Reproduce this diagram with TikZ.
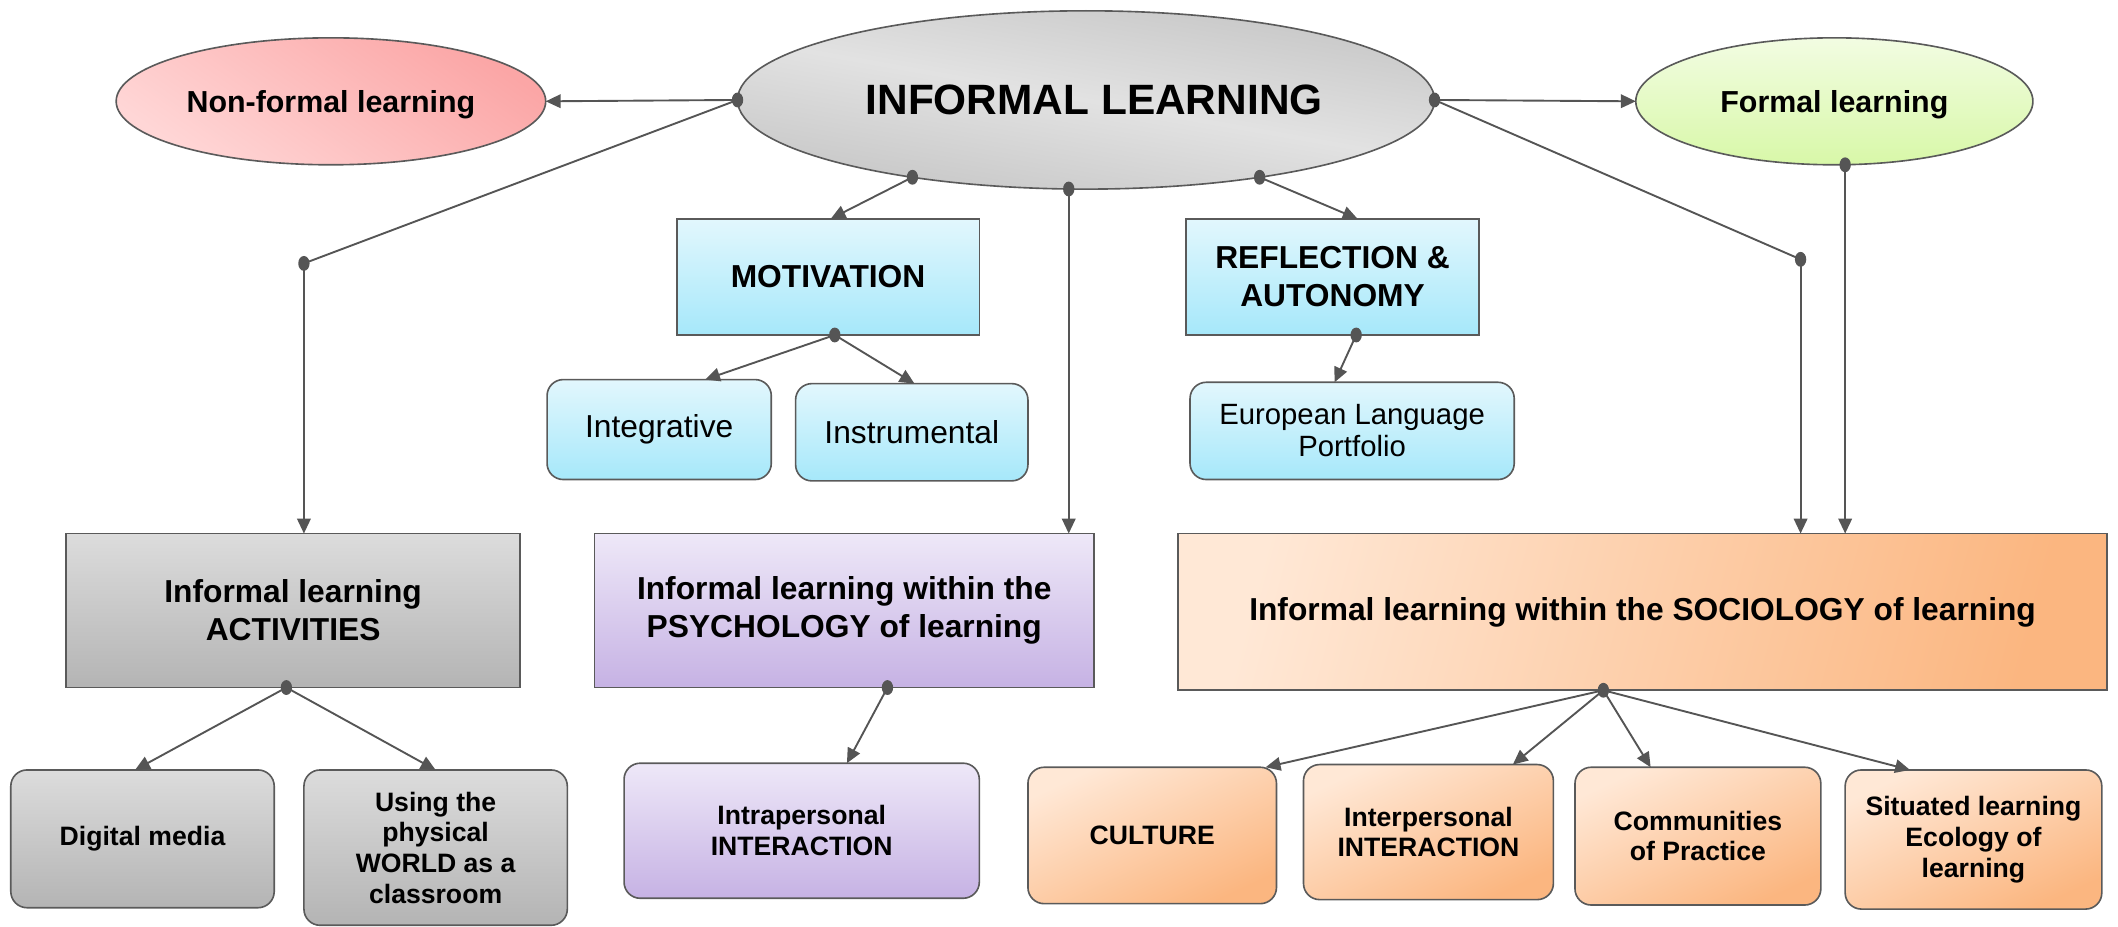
\documentclass[tikz,border=0pt]{standalone}
\usepackage{fontspec}
\setmainfont{Liberation Sans}
\usetikzlibrary{arrows.meta,shapes.geometric}
\definecolor{lc}{HTML}{555555}
\definecolor{bc}{HTML}{5A5A5A}
\definecolor{grayA}{HTML}{C6C6C6}
\definecolor{grayB}{HTML}{E2E2E2}
\definecolor{pinkA}{HTML}{FBA6A6}
\definecolor{pinkB}{HTML}{FFD6D6}
\definecolor{greenA}{HTML}{F2FCE2}
\definecolor{greenB}{HTML}{D8F8A8}
\definecolor{blueA}{HTML}{E2F7FD}
\definecolor{blueB}{HTML}{A6E8FA}
\definecolor{gboxA}{HTML}{DCDCDC}
\definecolor{gboxB}{HTML}{B4B4B4}
\definecolor{purA}{HTML}{EEE8F8}
\definecolor{purB}{HTML}{C6B2E4}
\definecolor{orA}{HTML}{FFE8D6}
\definecolor{orB}{HTML}{FBB680}
\tikzset{
  conn/.style={draw=lc, line width=1.4pt, -{Triangle[length=11pt,width=10pt]}},
  plain/.style={draw=lc, line width=1.4pt},
  box/.style={draw=bc, line width=1.2pt, inner sep=0pt, outer sep=0pt, align=center},
  rbox/.style={box, rounded corners=12pt},
  ell/.style={draw=bc, line width=1.2pt, ellipse, inner sep=0pt, outer sep=0pt, align=center},
  bigtxt/.style={font=\fontsize{23.5}{28}\selectfont\bfseries},
  regtxt/.style={font=\fontsize{23.5}{28}\selectfont},
  smalltxt/.style={font=\fontsize{19.7}{22.7}\selectfont\bfseries},
  grayfill/.style={top color=gboxA, bottom color=gboxB},
  bluefill/.style={top color=blueA, bottom color=blueB},
  purfill/.style={top color=purA, bottom color=purB},
  orfill/.style={top color=orA, bottom color=orB, shading angle=25},
  orwide/.style={top color=orA, bottom color=orB, shading angle=75},
}
\begin{document}
\begin{tikzpicture}[x=1pt,y=-1pt]
\useasboundingbox (0,0) rectangle (1568,686);
% ellipses
\node[ell, minimum width=516pt, minimum height=132pt, top color=grayA, bottom color=grayA, middle color=grayB, shading angle=-10,
  font=\fontsize{31.4}{36}\selectfont\bfseries] (inf) at (804,74) {\hspace*{12pt}INFORMAL LEARNING};
\node[ell, minimum width=318pt, minimum height=94pt, top color=pinkA, bottom color=pinkB, shading angle=-35,
  font=\fontsize{22.5}{27}\selectfont\bfseries, text height=22pt, text depth=5pt] (nonf) at (245,75) {Non-formal learning};
\node[ell, minimum width=294pt, minimum height=94pt, top color=greenA, bottom color=greenB,
  font=\fontsize{22.5}{27}\selectfont\bfseries, text height=22pt, text depth=5pt] (form) at (1358,75) {Formal learning};
% second row
\node[box, bluefill, bigtxt, minimum width=224pt, minimum height=86pt] (mot) at (613,205) {MOTIVATION};
\node[box, bluefill, bigtxt, minimum width=217pt, minimum height=86pt] (refl) at (986.5,205) {REFLECTION \&\\AUTONOMY};
\node[rbox, bluefill, regtxt, minimum width=166pt, minimum height=74pt] (integ) at (488,318) {Integrative};
\node[rbox, bluefill, regtxt, minimum width=172pt, minimum height=72pt] (instr) at (675,320) {Instrumental};
\node[rbox, bluefill, font=\fontsize{21.7}{23.5}\selectfont, minimum width=240pt, minimum height=72pt] (elp) at (1001,319) {European Language\\Portfolio};
% third row
\node[box, grayfill, bigtxt, minimum width=336pt, minimum height=114pt] (act) at (217,452) {Informal learning\\ACTIVITIES};
\node[box, purfill, bigtxt, minimum width=370pt, minimum height=114pt] (psy) at (625,452) {Informal learning within the\\PSYCHOLOGY of learning};
\node[box, orwide, bigtxt, minimum width=688pt, minimum height=116pt] (soc) at (1216,453) {Informal learning within the SOCIOLOGY of learning};
% bottom row
\node[rbox, grayfill, smalltxt, minimum width=195pt, minimum height=102pt] (dig) at (105.5,621) {Digital media};
\node[rbox, grayfill, smalltxt, minimum width=195pt, minimum height=115pt] (use) at (322.5,627.5) {Using the\\physical\\WORLD as a\\classroom};
\node[rbox, purfill, smalltxt, minimum width=263pt, minimum height=100pt] (intra) at (593.5,615) {Intrapersonal\\INTERACTION};
\node[rbox, orfill, smalltxt, minimum width=184pt, minimum height=101pt] (cult) at (853,618.5) {CULTURE};
\node[rbox, orfill, smalltxt, minimum width=185pt, minimum height=100pt] (inter) at (1057.5,616) {Interpersonal\\INTERACTION};
\node[rbox, orfill, smalltxt, minimum width=182pt, minimum height=102pt] (comm) at (1257,619) {Communities\\of Practice};
\node[rbox, orfill, smalltxt, minimum width=190pt, minimum height=103pt] (sit) at (1461,621.5) {Situated learning\\Ecology of\\learning};
% dot coordinates
\coordinate (dL) at (inf.west);
\coordinate (dR) at (inf.east);
\coordinate (dMot) at (inf.204.8);
\coordinate (dPsy) at (inf.259.7);
\coordinate (dRef) at (inf.336.8);
\coordinate (j1) at (225,195);
\coordinate (j2) at (1333,192);
\coordinate (dF) at ([xshift=8pt]form.south);
\coordinate (dM2) at ([xshift=5pt]mot.south);
\coordinate (dR2) at ([xshift=17.5pt]refl.south);
\coordinate (dA) at ([xshift=-5pt]act.south);
\coordinate (dP) at ([xshift=32pt]psy.south);
\coordinate (dS) at ([xshift=-29pt]soc.south);
% connectors
\draw[conn] (dL) -- (nonf.east);
\draw[conn] (dR) -- (form.west);
\draw[plain] (dL) -- (j1);
\draw[conn] (j1) -- (j1 |- act.north);
\draw[plain] (dR) -- (j2);
\draw[conn] (j2) -- (j2 |- soc.north);
\draw[conn] (dF) -- (dF |- soc.north);
\draw[conn] (dMot) -- ([xshift=2pt]mot.north);
\draw[conn] (dPsy) -- (dPsy |- psy.north);
\draw[conn] (dRef) -- ([xshift=18.5pt]refl.north);
\draw[conn] (dM2) -- ([xshift=34pt]integ.north);
\draw[conn] (dM2) -- ([xshift=2pt]instr.north);
\draw[conn] (dR2) -- ([xshift=-13pt]elp.north);
\draw[conn] (dA) -- ([xshift=-5.5pt]dig.north);
\draw[conn] (dA) -- (use.north);
\draw[conn] (dP) -- ([xshift=33.5pt]intra.north);
\draw[conn] (dS) -- ([xshift=84pt]cult.north);
\draw[conn] (dS) -- ([xshift=62.5pt]inter.north);
\draw[conn] (dS) -- ([xshift=-35pt]comm.north);
\draw[conn] (dS) -- ([xshift=-47pt]sit.north);
% dots
\foreach \d in {dL,dR,dMot,dPsy,dRef,j1,j2,dF,dM2,dR2,dA,dP,dS}
  \fill[lc] (\d) ellipse [x radius=4.2pt, y radius=5.5pt];
\end{tikzpicture}
\end{document}
